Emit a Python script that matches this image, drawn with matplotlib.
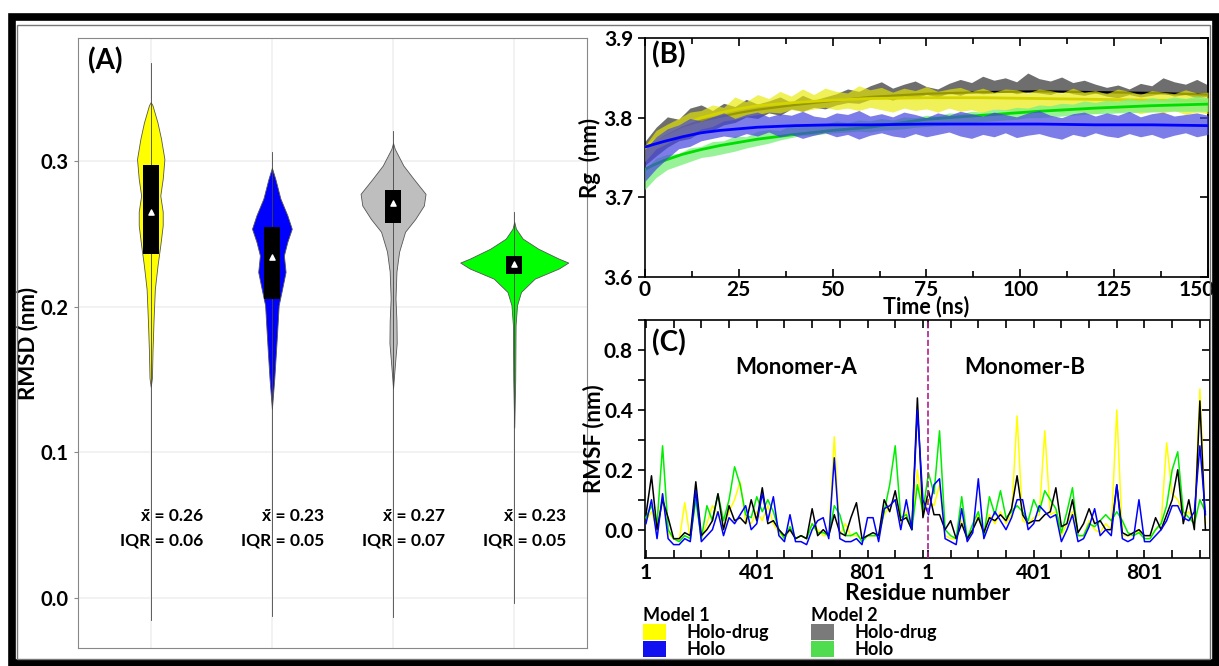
import matplotlib
matplotlib.use("Agg")
import matplotlib.pyplot as plt
import matplotlib.transforms as mtransforms
import numpy as np
from matplotlib.patches import Patch, Rectangle
from matplotlib.ticker import MultipleLocator

plt.rcParams.update({
    "font.family": ["Lato", "DejaVu Sans"],
    "font.weight": "bold",
    "axes.labelweight": "bold",
    "axes.linewidth": 1.2,
})

# ---------------- (A) RMSD violins ----------------
violin_colors = ["#ffff00", "#0000ff", "#bebebe", "#00ff00"]

# density outline: rmsd level (nm) and half width of the violin
yellow_lv = [0.340, 0.338, 0.326, 0.315, 0.301, 0.2875, 0.276, 0.265, 0.2556, 0.242, 0.228, 0.212, 0.19, 0.17, 0.151, 0.145]
yellow_hw = [0.0, 0.014, 0.056, 0.085, 0.113, 0.099, 0.079, 0.099, 0.099, 0.079, 0.056, 0.034, 0.023, 0.015, 0.01, 0.0]
blue_lv = [0.295, 0.2875, 0.274, 0.2626, 0.2533, 0.2442, 0.235, 0.2237, 0.2123, 0.2009, 0.185, 0.171, 0.151, 0.135, 0.13]
blue_hw = [0.0, 0.028, 0.07, 0.127, 0.164, 0.127, 0.099, 0.113, 0.085, 0.056, 0.045, 0.035, 0.02, 0.005, 0.0]
gray_lv = [0.312, 0.308, 0.2966, 0.2875, 0.2772, 0.2692, 0.26, 0.2512, 0.2376, 0.224, 0.2055, 0.19, 0.175, 0.16, 0.144]
gray_hw = [0.0, 0.014, 0.085, 0.169, 0.268, 0.254, 0.183, 0.099, 0.05, 0.028, 0.02, 0.028, 0.03, 0.015, 0.0]
green_lv = [0.258, 0.2533, 0.2465, 0.2396, 0.2328, 0.2301, 0.226, 0.2191, 0.21, 0.2009, 0.1872, 0.15, 0.117]
green_hw = [0.0, 0.014, 0.07, 0.198, 0.367, 0.446, 0.367, 0.169, 0.056, 0.023, 0.011, 0.008, 0.0]

rmsd_min = [-0.015, -0.012, -0.013, -0.003]
rmsd_max = [0.367, 0.306, 0.320, 0.265]
box_lo = [0.236, 0.205, 0.257, 0.222]
box_hi = [0.297, 0.2545, 0.2795, 0.2347]
centre_mark = [0.265, 0.234, 0.271, 0.229]
median_lbl = [0.26, 0.23, 0.27, 0.23]
iqr_lbl = [0.06, 0.05, 0.07, 0.05]

# ---------------- (B) Rg vs time ----------------
rg_time = np.arange(0, 151, 3)
gray_hi = [3.770, 3.788, 3.801, 3.798, 3.812, 3.816, 3.809, 3.818, 3.814, 3.823,
           3.817, 3.821, 3.826, 3.819, 3.828, 3.822, 3.826, 3.830, 3.836, 3.833,
           3.840, 3.845, 3.837, 3.842, 3.846, 3.839, 3.836, 3.843, 3.848, 3.844,
           3.852, 3.847, 3.850, 3.845, 3.856, 3.849, 3.846, 3.851, 3.844, 3.847,
           3.842, 3.838, 3.841, 3.836, 3.843, 3.840, 3.850, 3.845, 3.842, 3.848, 3.841]
gray_lo = [3.740, 3.752, 3.763, 3.771, 3.774, 3.782, 3.784, 3.791, 3.794, 3.801,
           3.799, 3.806, 3.803, 3.811, 3.808, 3.813, 3.811, 3.816, 3.819, 3.818,
           3.823, 3.826, 3.822, 3.827, 3.825, 3.829, 3.826, 3.831, 3.828, 3.833,
           3.830, 3.831, 3.834, 3.830, 3.833, 3.831, 3.829, 3.834, 3.830, 3.828,
           3.831, 3.827, 3.825, 3.829, 3.826, 3.828, 3.831, 3.827, 3.829, 3.825, 3.827]
yellow_hi = [3.765, 3.784, 3.792, 3.799, 3.807, 3.809, 3.816, 3.813, 3.826, 3.820,
             3.829, 3.824, 3.833, 3.827, 3.836, 3.829, 3.837, 3.833, 3.831, 3.840,
             3.835, 3.838, 3.832, 3.837, 3.834, 3.839, 3.833, 3.836, 3.838, 3.833,
             3.837, 3.832, 3.836, 3.835, 3.831, 3.836, 3.834, 3.831, 3.837, 3.832,
             3.834, 3.830, 3.836, 3.833, 3.829, 3.834, 3.832, 3.830, 3.835, 3.831, 3.832]
yellow_lo = [3.745, 3.761, 3.768, 3.776, 3.779, 3.786, 3.789, 3.796, 3.798, 3.802,
             3.804, 3.807, 3.806, 3.810, 3.808, 3.811, 3.813, 3.810, 3.812, 3.809,
             3.813, 3.810, 3.807, 3.812, 3.809, 3.811, 3.807, 3.812, 3.808, 3.810,
             3.806, 3.811, 3.809, 3.807, 3.810, 3.808, 3.811, 3.806, 3.809, 3.807,
             3.805, 3.810, 3.807, 3.809, 3.805, 3.808, 3.806, 3.809, 3.804, 3.807, 3.805]
blue_hi = [3.760, 3.776, 3.786, 3.791, 3.799, 3.796, 3.801, 3.806, 3.799, 3.804,
           3.807, 3.801, 3.805, 3.803, 3.808, 3.802, 3.800, 3.806, 3.804, 3.809,
           3.802, 3.805, 3.801, 3.807, 3.804, 3.800, 3.806, 3.803, 3.808, 3.805,
           3.802, 3.807, 3.804, 3.801, 3.806, 3.809, 3.803, 3.800, 3.805, 3.807,
           3.802, 3.806, 3.803, 3.808, 3.801, 3.805, 3.807, 3.802, 3.804, 3.806, 3.803]
blue_lo = [3.720, 3.736, 3.749, 3.761, 3.764, 3.771, 3.774, 3.777, 3.775, 3.780,
           3.777, 3.782, 3.776, 3.779, 3.774, 3.778, 3.781, 3.776, 3.779, 3.773,
           3.778, 3.781, 3.777, 3.775, 3.780, 3.776, 3.779, 3.782, 3.777, 3.774,
           3.779, 3.776, 3.781, 3.775, 3.778, 3.780, 3.776, 3.773, 3.779, 3.776,
           3.781, 3.777, 3.775, 3.780, 3.776, 3.779, 3.774, 3.778, 3.781, 3.776, 3.779]
green_hi = [3.735, 3.749, 3.754, 3.755, 3.762, 3.764, 3.770, 3.771, 3.777, 3.776,
            3.783, 3.785, 3.784, 3.791, 3.790, 3.793, 3.792, 3.796, 3.794, 3.797,
            3.796, 3.799, 3.797, 3.801, 3.800, 3.803, 3.802, 3.806, 3.805, 3.808,
            3.807, 3.811, 3.810, 3.813, 3.812, 3.816, 3.815, 3.818, 3.817, 3.821,
            3.819, 3.822, 3.821, 3.824, 3.822, 3.825, 3.823, 3.826, 3.824, 3.827, 3.825]
green_lo = [3.710, 3.725, 3.735, 3.740, 3.745, 3.750, 3.752, 3.755, 3.758, 3.762,
            3.765, 3.768, 3.772, 3.775, 3.778, 3.778, 3.780, 3.781, 3.782, 3.783,
            3.782, 3.784, 3.785, 3.786, 3.788, 3.789, 3.790, 3.791, 3.793, 3.794,
            3.795, 3.796, 3.797, 3.798, 3.800, 3.800, 3.801, 3.802, 3.803, 3.804,
            3.805, 3.805, 3.806, 3.806, 3.807, 3.807, 3.808, 3.808, 3.808, 3.808, 3.808]

fit_time = [0, 2, 5, 10, 15, 20, 25, 30, 40, 50, 60, 75, 90, 105, 120, 135, 150]
black_fit = [3.763, 3.770, 3.778, 3.789, 3.796, 3.801, 3.806, 3.810, 3.816, 3.821, 3.826, 3.830, 3.832, 3.833, 3.832, 3.831, 3.829]
yellow_fit = [3.762, 3.770, 3.779, 3.791, 3.800, 3.806, 3.811, 3.815, 3.819, 3.822, 3.824, 3.825, 3.825, 3.824, 3.823, 3.822, 3.821]
blue_fit = [3.763, 3.766, 3.770, 3.776, 3.781, 3.784, 3.786, 3.788, 3.790, 3.791, 3.791, 3.792, 3.792, 3.792, 3.791, 3.791, 3.790]
green_fit = [3.735, 3.740, 3.746, 3.754, 3.760, 3.765, 3.769, 3.773, 3.779, 3.784, 3.788, 3.798, 3.803, 3.808, 3.812, 3.815, 3.817]

# ---------------- (C) RMSF per residue (monomer A then monomer B) ----------------
rmsf_yellow = [0.03, 0.06, 0.0, 0.12, -0.01, -0.03, -0.035, 0.09, -0.03, 0.10,
               -0.03, 0.02, 0.08, 0.05, 0.0, 0.06, 0.10, 0.16, 0.03, 0.02,
               0.06, 0.03, 0.08, 0.02, -0.01, -0.03, 0.0, -0.03, -0.02, -0.03,
               0.02, 0.0, -0.02, -0.02, 0.31, -0.02, 0.02, -0.02, -0.02, -0.03,
               -0.02, -0.02, -0.02, 0.05, 0.08, 0.10, 0.02, 0.06, 0.02, 0.20,
               0.05, 0.10, 0.08, 0.15, -0.02, -0.03, -0.03, 0.03, -0.03, 0.0,
               0.05, -0.02, 0.05, 0.02, 0.06, 0.02, 0.05, 0.38, 0.03, 0.02,
               0.04, 0.05, 0.33, 0.05, 0.06, -0.02, 0.02, 0.06, -0.02, -0.02,
               0.03, 0.0, -0.01, 0.02, 0.0, 0.40, -0.02, -0.02, -0.02, 0.0,
               -0.03, -0.03, 0.0, 0.02, 0.29, 0.12, 0.10, 0.05, 0.06, 0.02,
               0.47, 0.02]
rmsf_blue = [0.02, 0.10, -0.03, 0.12, -0.03, -0.05, -0.05, -0.03, -0.04, 0.13,
             -0.04, -0.02, 0.0, 0.06, -0.02, 0.04, 0.02, 0.05, 0.08, 0.0,
             0.02, 0.12, 0.03, 0.11, -0.02, -0.04, 0.05, -0.04, -0.04, -0.05,
             0.0, 0.03, 0.04, -0.03, 0.24, -0.03, -0.04, -0.04, -0.03, -0.05,
             0.04, 0.04, -0.04, 0.07, 0.08, 0.10, 0.0, 0.10, 0.0, 0.40,
             0.10, 0.05, 0.15, 0.17, -0.03, -0.04, -0.05, 0.07, -0.04, -0.01,
             0.17, -0.03, 0.02, 0.06, 0.03, 0.0, 0.04, 0.10, 0.10, 0.0,
             0.02, 0.08, 0.06, 0.04, 0.05, -0.04, 0.0, 0.05, -0.04, -0.03,
             0.01, 0.07, -0.02, 0.0, -0.02, 0.15, -0.03, -0.04, -0.03, 0.10,
             -0.04, -0.04, -0.02, 0.0, 0.03, 0.08, 0.08, 0.04, 0.03, 0.06,
             0.28, 0.05]
rmsf_black = [0.05, 0.18, 0.0, 0.10, 0.04, -0.03, -0.03, -0.01, -0.02, 0.16,
              -0.02, 0.0, 0.03, 0.12, 0.0, 0.08, 0.03, 0.04, 0.02, 0.10,
              0.03, 0.14, 0.02, 0.03, 0.0, -0.02, 0.0, -0.03, -0.02, -0.03,
              0.07, -0.02, 0.0, -0.02, 0.05, -0.01, -0.02, 0.04, 0.09, -0.03,
              -0.02, -0.01, -0.02, 0.10, 0.06, 0.13, 0.03, 0.04, 0.0, 0.44,
              0.04, 0.13, 0.05, 0.05, 0.0, 0.03, -0.03, 0.02, -0.03, 0.0,
              0.04, -0.01, 0.04, 0.03, 0.05, 0.03, 0.07, 0.18, 0.05, 0.02,
              0.03, 0.03, 0.05, 0.06, 0.14, 0.01, 0.02, 0.10, -0.01, 0.02,
              0.07, 0.02, 0.03, 0.0, 0.0, 0.15, -0.01, -0.02, -0.01, 0.0,
              -0.02, -0.02, 0.04, 0.0, 0.05, 0.10, 0.20, 0.02, 0.10, 0.0,
              0.43, 0.0]
rmsf_green = [0.04, 0.08, 0.02, 0.28, 0.0, -0.03, -0.04, -0.02, -0.03, 0.10,
              -0.03, 0.08, 0.03, 0.12, 0.03, 0.10, 0.21, 0.15, 0.05, 0.04,
              0.11, 0.06, 0.10, 0.06, 0.0, -0.03, 0.01, -0.03, -0.02, -0.03,
              0.02, -0.01, -0.01, -0.02, 0.08, 0.05, -0.02, -0.02, -0.01, -0.04,
              -0.02, -0.02, -0.02, 0.06, 0.15, 0.28, 0.04, 0.05, 0.0, 0.15,
              0.06, 0.19, 0.12, 0.33, 0.0, -0.02, -0.03, 0.11, -0.03, 0.02,
              0.06, -0.02, 0.11, 0.05, 0.13, 0.04, 0.06, 0.08, 0.06, 0.03,
              0.10, 0.06, 0.13, 0.10, 0.07, -0.01, 0.06, 0.14, -0.02, -0.02,
              0.02, 0.01, 0.03, 0.05, 0.03, 0.06, 0.03, -0.01, -0.02, -0.01,
              -0.03, -0.03, 0.0, 0.02, 0.08, 0.20, 0.26, 0.06, 0.04, 0.02,
              0.10, 0.06]
residue_idx = np.arange(len(rmsf_yellow)) * 20
chain_break = 1017
res_tick_pos = [0, 400, 800, chain_break, 1400, 1800]
res_tick_lbl = ["1", "401", "801", "1", "401", "801"]
rmsf_tick_pos = [0.0, 0.2, 0.4, 0.6]
rmsf_tick_lbl = ["0.0", "0.2", "0.4", "0.8"]

fig = plt.figure(figsize=(12.19, 6.66), dpi=100)

# outer frame
fig.add_artist(Rectangle((11.5 / 1219, 3.5 / 666), 1204 / 1219, 646 / 666, transform=fig.transFigure,
                         fill=False, edgecolor="black", linewidth=5.5))
fig.add_artist(Rectangle((17 / 1219, 7 / 666), 1193 / 1219, 634 / 666, transform=fig.transFigure,
                         fill=False, edgecolor="#777777", linewidth=1))

# ---- panel A ----
axA = fig.add_axes([0.064, 0.027, 0.4175, 0.916])
profiles = [(yellow_lv, yellow_hw), (blue_lv, blue_hw), (gray_lv, gray_hw), (green_lv, green_hw)]
for k, (lv, hw) in enumerate(profiles):
    lv = np.array(lv)
    hw = np.array(hw)
    axA.fill_betweenx(lv, k - hw, k + hw, facecolor=violin_colors[k], edgecolor="#555555",
                      linewidth=0.6, zorder=2)
    axA.plot([k, k], [rmsd_min[k], rmsd_max[k]], color="#444444", lw=0.6, zorder=3)
axA.bar(range(4), np.subtract(box_hi, box_lo), bottom=box_lo, width=0.13, color="black", zorder=4)
axA.scatter(range(4), centre_mark, marker="^", color="white", s=14, zorder=5)
for k in range(4):
    axA.text(k + 0.43, 0.0565, f"x\u0303 = {median_lbl[k]:.2f}", ha="right", va="center", fontsize=12.5)
    axA.text(k + 0.43, 0.0395, f"IQR = {iqr_lbl[k]:.2f}", ha="right", va="center", fontsize=12.5)
axA.set_xlim(-0.6, 3.6)
axA.set_ylim(-0.034, 0.384)
axA.set_yticks([0.0, 0.1, 0.2, 0.3])
axA.set_xticks(range(4))
axA.tick_params(axis="x", length=0, labelbottom=False)
axA.tick_params(axis="y", length=3, color="#888888", labelsize=14.5)
axA.grid(color="#f0f0f0", lw=1.2)
axA.set_axisbelow(True)
for s in axA.spines.values():
    s.set_color("#888888")
    s.set_linewidth(0.8)
axA.set_ylabel("RMSD (nm)", fontsize=16, labelpad=2)
axA.text(0.02, 0.985, "(A)", transform=axA.transAxes, fontsize=20, va="top", ha="left")


def frame_ticks(ax, yticks):
    ax.tick_params(axis="x", which="both", direction="in", top=True, bottom=True, labelsize=15, width=1.2)
    ax.tick_params(axis="x", which="major", length=6)
    ax.tick_params(axis="x", which="minor", length=4)
    ax.tick_params(axis="y", which="both", direction="out", right=False, labelsize=15, width=1.2, length=5)
    sec = ax.secondary_yaxis("right")
    sec.set_yticks(yticks)
    sec.tick_params(direction="in", length=6, width=1.2, labelright=False)


# ---- panel B ----
axB = fig.add_axes([0.529, 0.584, 0.462, 0.359])
axB.fill_between(rg_time, gray_lo, gray_hi, color="#555555", alpha=0.85, lw=0, zorder=2)
axB.plot(fit_time, black_fit, color="black", lw=1.6, zorder=3)
axB.fill_between(rg_time, yellow_lo, yellow_hi, color="#e8e800", alpha=0.65, lw=0, zorder=4)
axB.plot(fit_time, yellow_fit, color="#d4d400", lw=2, zorder=5)
axB.fill_between(rg_time, green_lo, green_hi, color="#7ef07e", alpha=0.8, lw=0, zorder=6)
axB.plot(fit_time, green_fit, color="#00dd00", lw=2, zorder=7)
axB.fill_between(rg_time, blue_lo, blue_hi, color="#4646e0", alpha=0.7, lw=0, zorder=8)
axB.plot(fit_time, blue_fit, color="#0000ff", lw=2, zorder=9)
axB.set_xlim(0, 150)
axB.set_ylim(3.6, 3.9)
axB.set_xticks([0, 25, 50, 75, 100, 125, 150])
axB.xaxis.set_minor_locator(MultipleLocator(12.5))
axB.set_yticks([3.6, 3.7, 3.8, 3.9])
frame_ticks(axB, [3.6, 3.7, 3.8, 3.9])
axB.tick_params(axis="x", pad=2)
# nudge the last time label so it stays inside the frame
last_lbl = axB.get_xticklabels()[-1]
last_lbl.set_transform(last_lbl.get_transform() +
                       mtransforms.ScaledTranslation(-8 / 72, 0, fig.dpi_scale_trans))
axB.set_xlabel("Time (ns)", fontsize=15.5, labelpad=-3)
axB.set_ylabel("Rg  (nm)", fontsize=16, labelpad=2)
axB.text(0.013, 0.985, "(B)", transform=axB.transAxes, fontsize=20, va="top", ha="left")

# ---- panel C ----
axC = fig.add_axes([0.529, 0.162, 0.4635, 0.3574])
axC.plot(residue_idx, rmsf_yellow, color="#ffff00", lw=1.1, zorder=2)
axC.plot(residue_idx, rmsf_green, color="#00ee00", lw=1.1, zorder=3)
axC.plot(residue_idx, rmsf_black, color="black", lw=1.1, zorder=4)
axC.plot(residue_idx, rmsf_blue, color="#0000ff", lw=1.1, zorder=5)
axC.axvline(chain_break, color="#b0208f", ls="--", lw=1.2, zorder=6)
axC.set_xlim(-4, 2036)
axC.set_ylim(-0.095, 0.70)
axC.set_xticks(res_tick_pos)
axC.set_xticklabels(res_tick_lbl)
axC.xaxis.set_minor_locator(MultipleLocator(100))
axC.set_yticks(rmsf_tick_pos)
axC.set_yticklabels(rmsf_tick_lbl)
axC.yaxis.set_minor_locator(MultipleLocator(0.1))
frame_ticks(axC, [0.0, 0.1, 0.2, 0.3, 0.4, 0.5, 0.6])
axC.tick_params(axis="x", which="minor", length=6)
axC.set_xlabel("Residue number", fontsize=16.5, labelpad=0)
axC.set_ylabel("RMSF (nm)", fontsize=16, labelpad=0)
axC.text(0.013, 0.96, "(C)", transform=axC.transAxes, fontsize=20, va="top", ha="left")
axC.text(541, 0.543, "Monomer-A", fontsize=16, ha="center", va="center")
axC.text(1368, 0.543, "Monomer-B", fontsize=16, ha="center", va="center")

# ---- legend ----
leg_kw = dict(loc="upper left", frameon=False, fontsize=13, title_fontsize=13, alignment="left",
              handlelength=1.3, handleheight=0.95, labelspacing=0.0, borderpad=0,
              handletextpad=1.1, borderaxespad=0)
leg1 = fig.legend([Patch(facecolor="#ffff00"), Patch(facecolor="#1010f0")], ["Holo-drug", "Holo"],
                  title="Model 1", bbox_to_anchor=(643 / 1219, 1 - 607 / 666), **leg_kw)
leg2 = fig.legend([Patch(facecolor="#7a7a7a"), Patch(facecolor="#4fdc4f")], ["Holo-drug", "Holo"],
                  title="Model 2", bbox_to_anchor=(811 / 1219, 1 - 607 / 666), **leg_kw)
for lg in (leg1, leg2):
    lg.get_title().set_fontweight("bold")

fig.savefig("out.png", dpi=100)
